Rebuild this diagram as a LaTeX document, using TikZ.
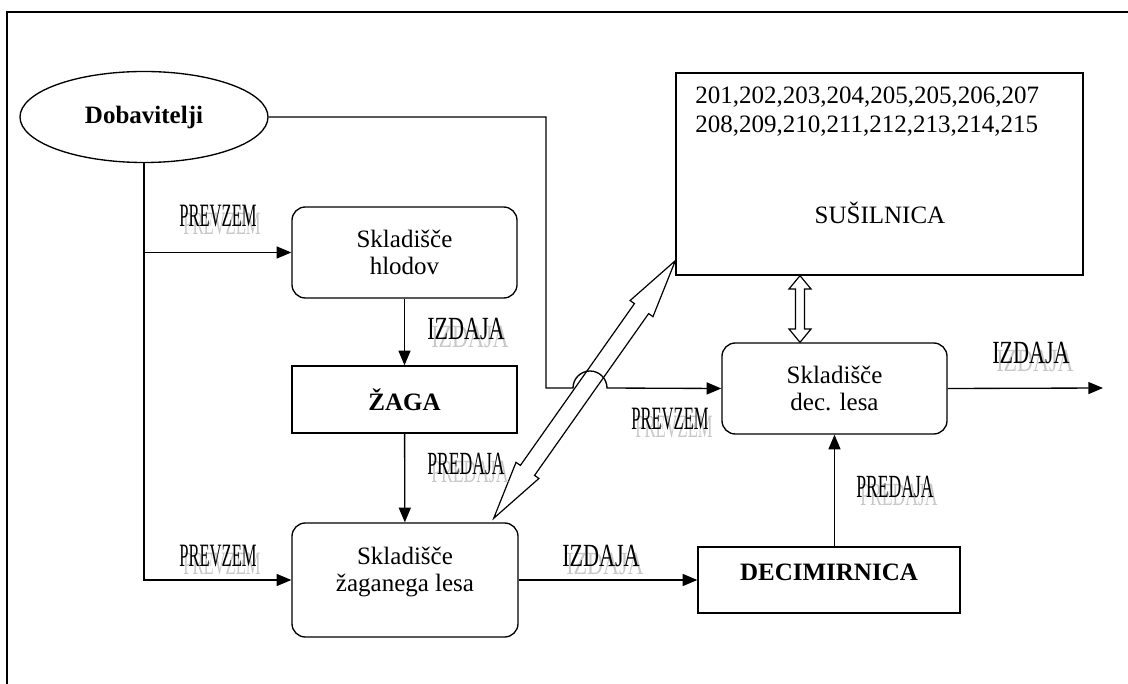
\documentclass[tikz,border=0pt]{standalone}
\usepackage{fontspec}
\usepackage{graphicx}
\setmainfont{Liberation Serif}
\usepackage{tikz}
\usetikzlibrary{shapes.geometric, arrows.meta, positioning, calc}
\definecolor{ghostgray}{RGB}{200,200,200}
\tikzset{
    procbox/.style={rectangle, draw, rounded corners=10pt, minimum width=168.75pt, minimum height=68.25pt, align=center, font=\fontsize{18.75}{20.25}\selectfont, line width=1pt},
    plainbox/.style={rectangle, draw, align=center, font=\fontsize{18.75}{20.25}\selectfont, line width=1pt},
    flow/.style={-{Triangle[length=11pt, width=9pt]}, line width=1pt},
    hollow/.style={draw, fill=white, line width=0.9pt, line join=miter},
    walabel/.style={inner sep=0pt}
}
% label text with a lighter copy below it
\newcommand{\wordart}[1]{\rlap{\hspace*{3pt}\raisebox{-6pt}{\color{ghostgray}\resizebox{58pt}{16pt}{#1}}}\resizebox{58pt}{16pt}{#1}}
% hollow two-headed arrow: from, to, shaft half width, head half width, head length
\newcommand{\twoway}[5]{%
    \coordinate (#1-h) at ($(#1)!#5!(#2)$);
    \coordinate (#2-h) at ($(#2)!#5!(#1)$);
    \draw[hollow] (#1) -- ($(#1-h)!#4!-90:(#2)$) -- ($(#1-h)!#3!-90:(#2)$)
        -- ($(#2-h)!#3!90:(#1)$) -- ($(#2-h)!#4!90:(#1)$) -- (#2)
        -- ($(#2-h)!#4!-90:(#1)$) -- ($(#2-h)!#3!-90:(#1)$)
        -- ($(#1-h)!#3!90:(#2)$) -- ($(#1-h)!#4!90:(#2)$) -- cycle;
}

\begin{document}
\begin{tikzpicture}[x=0.75pt, y=-0.75pt]
\useasboundingbox (0,0) rectangle (1128,684);
\draw[line width=1.2pt] (7,700) -- (7,12) -- (1140,12);

\node[ellipse, draw, line width=1pt, minimum width=186pt, minimum height=68.25pt, font=\fontsize{18.75}{20.25}\selectfont\bfseries] (dob) at (144,117) {Dobavitelji};

\node[procbox] (hlodov) at (404.5,252.5) {Skladišče\\hlodov};
\node[plainbox, minimum width=168.75pt, minimum height=50.25pt, font=\fontsize{18.75}{20.25}\selectfont\bfseries] (zaga) at (404.5,399.5) {ŽAGA};
\node[procbox, minimum width=169.5pt, minimum height=85.5pt] (zaganega) at (405,580) {Skladišče\\žaganega lesa\\[-4pt]\mbox{}};
\node[plainbox, minimum width=196.5pt, minimum height=49.5pt, font=\fontsize{18.75}{20.25}\selectfont\bfseries] (decim) at (829,580) {DECIMIRNICA\\[-8pt]\mbox{}};
\node[procbox] (declesa) at (834.5,388.5) {Skladišče\\dec. lesa};

\node[plainbox, minimum width=305.25pt, minimum height=151.5pt] (susil) at (879.5,174) {};
\node[anchor=north west, inner sep=0pt, align=left, font=\fontsize{18.75}{21.75}\selectfont] (susnum) at (695,87) {201,202,203,204,205,205,206,207\\208,209,210,211,212,213,214,215};
\node[font=\fontsize{18.75}{20.25}\selectfont] (sustitle) at (880,213) {SUŠILNICA};

% supply lines
\draw[flow] (dob.south) |- (zaganega.west);
\draw[flow] (dob.south |- hlodov.west) -- (hlodov.west);
\coordinate (jump) at (573,388);
\coordinate (out) at (1103,388);

% two-way transfers
\coordinate (susA) at ($(susil.south west)+(0,11.25pt)$);
\coordinate (susB) at ($(zaganega.north east)+(-18.75pt,3pt)$);
\twoway{susB}{susA}{6.5pt}{10.5pt}{44pt}
\coordinate (susC) at (susil.south -| 800,0);
\coordinate (decC) at (declesa.north -| 800,0);
\twoway{decC}{susC}{3.4pt}{8.25pt}{10pt}

\draw[flow] (dob.east) -| (546,388) -- (jump) arc[start angle=180, end angle=0, radius=12.75pt] -- (declesa.west);
\draw[flow] (hlodov) -- (zaga);
\draw[flow] (zaga) -- (zaganega);
\draw[flow] (zaganega.east) -- (decim.west);
\draw[flow] (decim.north -| declesa.south) -- (declesa.south);
\draw[flow] (declesa.east) -- (out);

\node[walabel] (l1) at (218,220) {\wordart{PREVZEM}};
\node[walabel] (l2) at (466,333) {\wordart{IZDAJA}};
\node[walabel] (l3) at (466,468) {\wordart{PREDAJA}};
\node[walabel] (l4) at (218,560) {\wordart{PREVZEM}};
\node[walabel] (l5) at (601,560) {\wordart{IZDAJA}};
\node[walabel] (l6) at (670,423) {\wordart{PREVZEM}};
\node[walabel] (l7) at (895,491) {\wordart{PREDAJA}};
\node[walabel] (l8) at (1031,357) {\wordart{IZDAJA}};
\end{tikzpicture}
\end{document}
